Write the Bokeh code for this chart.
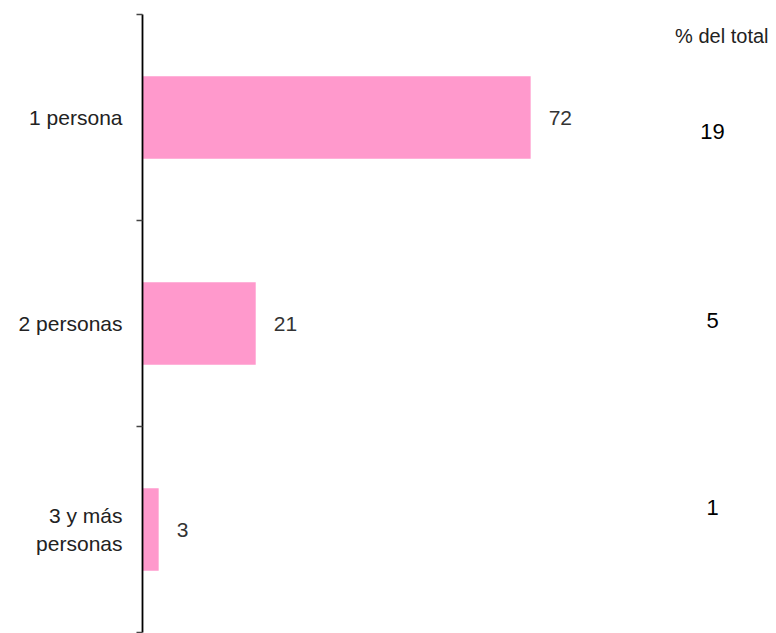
from bokeh.plotting import figure
from bokeh.models import ColumnDataSource, Range1d, FixedTicker, Label
from bokeh.core.properties import value
from bokeh.embed import file_html
from bokeh.resources import INLINE

categories = ["1 persona", "2 personas", "3 y más\npersonas"]
counts = [72, 21, 3]
pct_total = [19, 5, 1]
pct_header = "% del total"

FONT = "Liberation Sans"
n = len(categories)
centers = [i + 0.5 for i in range(n)]
xr_end = 117.6

p = figure(width=776, height=633, output_backend="svg", toolbar_location=None,
           x_range=Range1d(0, xr_end), y_range=Range1d(n, 0),
           min_border_left=142, min_border_right=0, min_border_top=14, min_border_bottom=1)
p.outline_line_color = None
p.xgrid.visible = False
p.ygrid.visible = False
p.xaxis.visible = False
p.background_fill_color = "white"
p.border_fill_color = "white"

ya = p.yaxis[0]
ya.ticker = FixedTicker(ticks=centers, minor_ticks=list(range(n + 1)))
ya.major_label_overrides = {c: lab for c, lab in zip(centers, categories)}
ya.major_label_text_font = FONT
ya.major_label_text_font_size = "21px"
ya.major_label_text_color = "#222222"
ya.major_label_standoff = 14
ya.major_tick_line_color = None
ya.major_tick_in = 0
ya.major_tick_out = 0
ya.minor_tick_in = 0
ya.minor_tick_out = 6
ya.minor_tick_line_color = "#444444"
ya.minor_tick_line_width = 1.5
ya.axis_line_color = "#000000"
ya.axis_line_width = 1.8

src = ColumnDataSource(dict(y=centers, v=counts, lab=[str(c) for c in counts]))
p.hbar(y="y", left=0, right="v", height=0.4, source=src,
       fill_color="#FF99CC", line_color=None)

p.text(x="v", y="y", text="lab", source=src, x_offset=18,
       text_align="left", text_baseline="middle", text_font=value(FONT),
       text_font_size="21px", text_color="#333333")

# percentage column
pct_yoff = [14, -3, -22]
p.text(x=[xr_end] * n, y=centers, text=[str(v) for v in pct_total],
       x_offset=-64, y_offset=pct_yoff, text_align="center", text_baseline="middle",
       text_font=value(FONT), text_font_size="22px", text_color="#000000")

p.add_layout(Label(x=xr_end, y=0, text=pct_header, x_offset=-8, y_offset=-21,
                   text_align="right", text_baseline="middle", text_font=FONT,
                   text_font_size="20px", text_color="#222222"))

open("out.html", "w").write(file_html(p, INLINE))
